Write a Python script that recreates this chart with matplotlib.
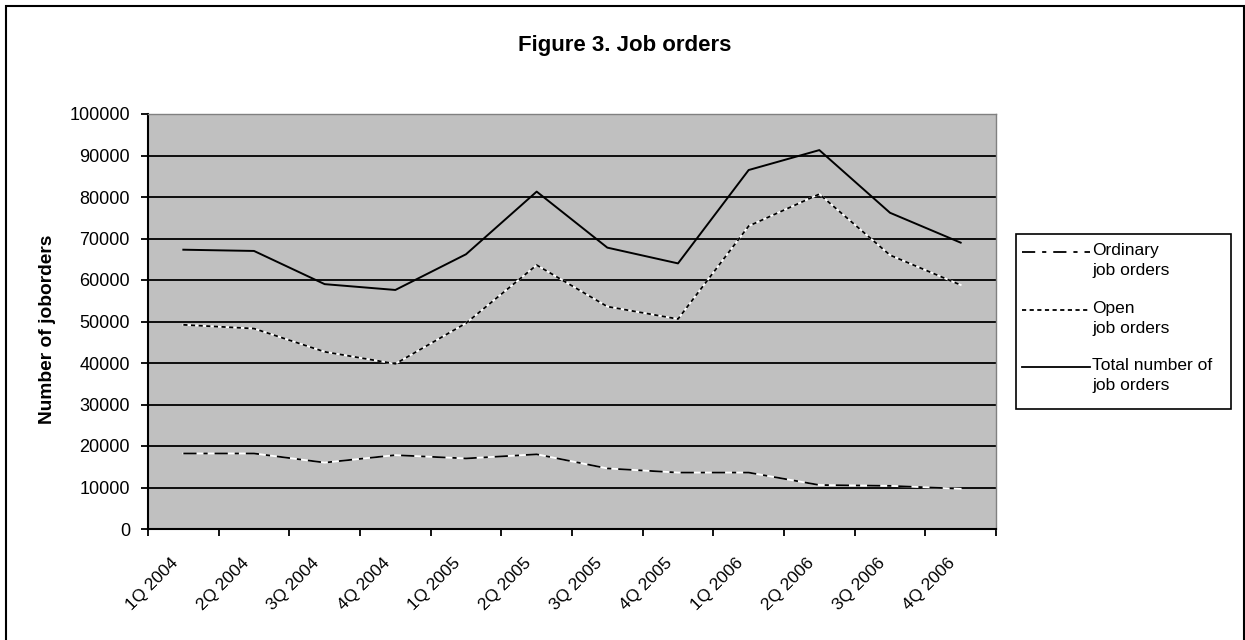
import matplotlib
matplotlib.use("Agg")
import matplotlib.pyplot as plt
from matplotlib.lines import Line2D
from matplotlib.patches import Rectangle
from matplotlib.ticker import FixedLocator, NullFormatter, FixedFormatter
import matplotlib.transforms as mtransforms

plt.rcParams['font.family'] = ['Liberation Sans', 'DejaVu Sans']
plt.rcParams['lines.scale_dashes'] = False

categories = ["1Q 2004", "2Q 2004", "3Q 2004", "4Q 2004",
              "1Q 2005", "2Q 2005", "3Q 2005", "4Q 2005",
              "1Q 2006", "2Q 2006", "3Q 2006", "4Q 2006"]
ordinary = [18200, 18200, 16000, 17800, 17000, 18000,
            14600, 13600, 13600, 10600, 10400, 9700]
open_orders = [49200, 48300, 42700, 39800, 49600, 63600,
               53600, 50600, 73000, 80700, 66000, 58800]
total = [67300, 67000, 59000, 57600, 66200, 81300,
         67800, 64000, 86500, 91300, 76200, 69000]
series_names = ["Ordinary\njob orders", "Open\njob orders", "Total number of\njob orders"]
yticks = list(range(0, 100001, 10000))

W, H = 1245, 640
fig = plt.figure(figsize=(W / 100, H / 100), dpi=100)
fig.patch.set_facecolor("white")

def fx(px):
    return px / W

def fy(py):
    return 1 - py / H

ax = fig.add_axes([fx(148), fy(529), fx(996) - fx(148), fy(114) - fy(529)])
ax.set_facecolor("#C0C0C0")
x = list(range(len(categories)))

ord_dash = (9.5, 5, 3, 5)
open_dash = (3, 2.5)

# gridlines
for v in yticks[1:-1]:
    ax.axhline(v, color="black", lw=1.3, zorder=1)

# series
ax.plot(x, ordinary, color="white", lw=1.3, zorder=3)
ax.plot(x, ordinary, color="black", lw=1.3, zorder=4, dashes=ord_dash)
ax.plot(x, open_orders, color="white", lw=1.3, zorder=3)
ax.plot(x, open_orders, color="black", lw=1.3, zorder=4, dashes=open_dash)
ax.plot(x, total, color="black", lw=1.4, zorder=4)

ax.set_xlim(-0.5, len(categories) - 0.5)
ax.set_ylim(0, 100000)

ax.xaxis.set_major_locator(FixedLocator([i - 0.5 for i in range(len(categories) + 1)]))
ax.xaxis.set_major_formatter(NullFormatter())
ax.xaxis.set_minor_locator(FixedLocator(x))
ax.xaxis.set_minor_formatter(FixedFormatter(categories))
ax.tick_params(axis="x", which="major", length=5, width=1.3, direction="out", color="black")
ax.tick_params(axis="x", which="minor", length=0, pad=19, labelsize=12.5)
offset = mtransforms.ScaledTranslation(-13 / 100, 0, fig.dpi_scale_trans)
for lbl in ax.get_xticklabels(minor=True):
    lbl.set_rotation(45)
    lbl.set_ha("right")
    lbl.set_va("top")
    lbl.set_rotation_mode("anchor")
    lbl.set_transform(lbl.get_transform() + offset)

ax.set_yticks(yticks)
ax.set_yticklabels([str(v) for v in yticks])
ax.tick_params(axis="y", length=5, width=1.3, direction="out", pad=8, labelsize=13)

for s in ["top", "right"]:
    ax.spines[s].set_color("#808080")
    ax.spines[s].set_linewidth(1)
for s in ["left", "bottom"]:
    ax.spines[s].set_color("black")
    ax.spines[s].set_linewidth(1.5)

fig.text(fx(48), fy(329), "Number of joborders", rotation=90, ha="center", va="center",
         fontsize=13.8, fontweight="bold")
fig.text(fx(625), fy(46), "Figure 3. Job orders", ha="center", va="center",
         fontsize=16, fontweight="bold")

# legend (manual)
fig.add_artist(Rectangle((fx(1016), fy(409)), fx(1231) - fx(1016), fy(234) - fy(409),
                         transform=fig.transFigure, facecolor="white", edgecolor="black", lw=1.2))
styles = [dict(dashes=ord_dash), dict(dashes=open_dash), dict()]
ys = [252, 310, 367]
for name, st, yy in zip(series_names, styles, ys):
    fig.add_artist(Line2D([fx(1022), fx(1090)], [fy(yy), fy(yy)], color="black", lw=1.3,
                          transform=fig.transFigure, **st))
    fig.text(fx(1092), fy(yy - 9), name, ha="left", va="top", fontsize=12.5, linespacing=1.45)

# outer frame
fig.add_artist(Rectangle((fx(6), -0.05), fx(1244) - fx(6), fy(6) + 0.05,
                         transform=fig.transFigure, facecolor="none", edgecolor="black", lw=1.5))

fig.savefig("out.png", dpi=100)
